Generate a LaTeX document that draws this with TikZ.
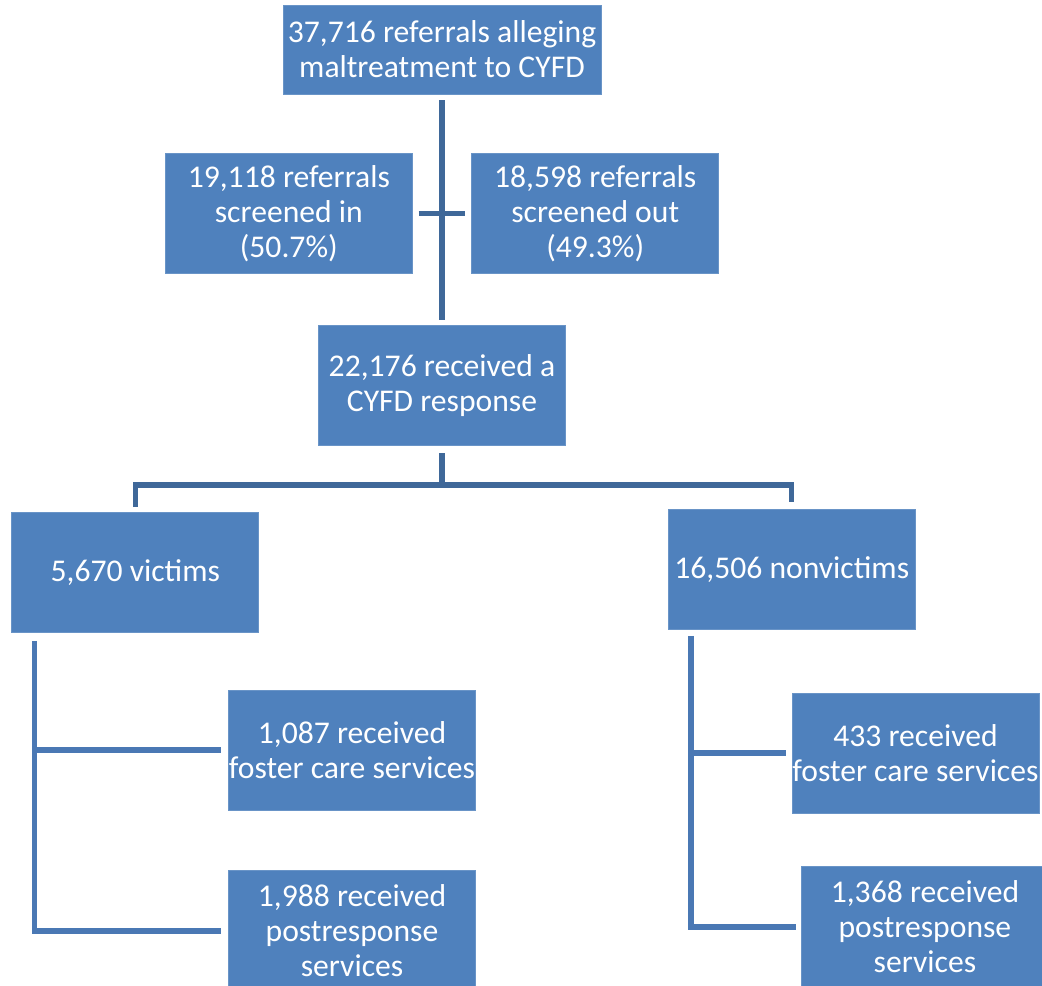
\documentclass[tikz,border=0pt]{standalone}
\usepackage{fontspec}
\setmainfont{Carlito}
\usetikzlibrary{positioning}
\definecolor{boxblue}{HTML}{4F81BD}
\definecolor{lineblue}{HTML}{3F6899}
\definecolor{brackblue}{HTML}{4A78B4}
\begin{document}
\begin{tikzpicture}[box/.style={fill=boxblue,draw=boxblue!85!white,text=white,align=center,inner sep=0pt,minimum width=4.94cm,minimum height=2.4cm,font=\fontsize{18}{20}\selectfont},link/.style={draw=lineblue,line width=0.11cm}]
\useasboundingbox (0,0) rectangle (20.84,-19.72);
\node[box,minimum width=6.36cm,minimum height=1.78cm] (A) at (8.84,-0.99) {37,716 referrals alleging\\maltreatment to CYFD};
\node[box,node distance=1.18 and -2.6,below left=of A] (B) {19,118 referrals\\screened in\\(50.7\%)};
\node[box,node distance=1.18 and -2.6,below right=of A] (C) {18,598 referrals\\screened out\\(49.3\%)};
\node[box,below=4.62 of A] (D) {22,176 received a\\CYFD response};
\node[box,node distance=1.32 and 1.18,below left=of D] (E) {5,670 victims};
\node[box,node distance=1.26 and 2.04,below right=of D] (F) {16,506 nonvictims};
\node[box,node distance=1.14 and -0.62,below right=of E] (G) {1,087 received\\foster care services};
\node[box,below=1.2 of G] (H) {1,988 received\\postresponse\\services};
\node[box,node distance=1.26 and -2.48,below right=of F] (I) {433 received\\foster care services};
\node[box,below=1.06 of I,xshift=0.19cm] (J) {1,368 received\\postresponse\\services};
\draw[link] ([yshift=-0.12cm]A.south) -- ([yshift=0.1cm]D.north);
\draw[link] ([xshift=0.12cm]B.east) -- ([xshift=-0.12cm]C.west);
\draw[link] ([yshift=-0.14cm]D.south) -- ++(0,-0.64) coordinate (fork);
\draw[link] ([yshift=0.1cm]E.north) |- (fork) -| ([yshift=0.14cm]F.north);
\draw[link,draw=brackblue] ([xshift=0.46cm,yshift=-0.16cm]E.south west) |- ([xshift=-0.14cm]H.west);
\draw[link,draw=brackblue] ([xshift=0.46cm]E.south west |- G.west) -- ([xshift=-0.14cm]G.west);
\draw[link,draw=brackblue] ([xshift=0.46cm,yshift=-0.12cm]F.south west) |- ([xshift=-0.1cm]J.west);
\draw[link,draw=brackblue] ([xshift=0.46cm]F.south west |- I.west) -- ([xshift=-0.12cm]I.west);
\end{tikzpicture}
\end{document}
